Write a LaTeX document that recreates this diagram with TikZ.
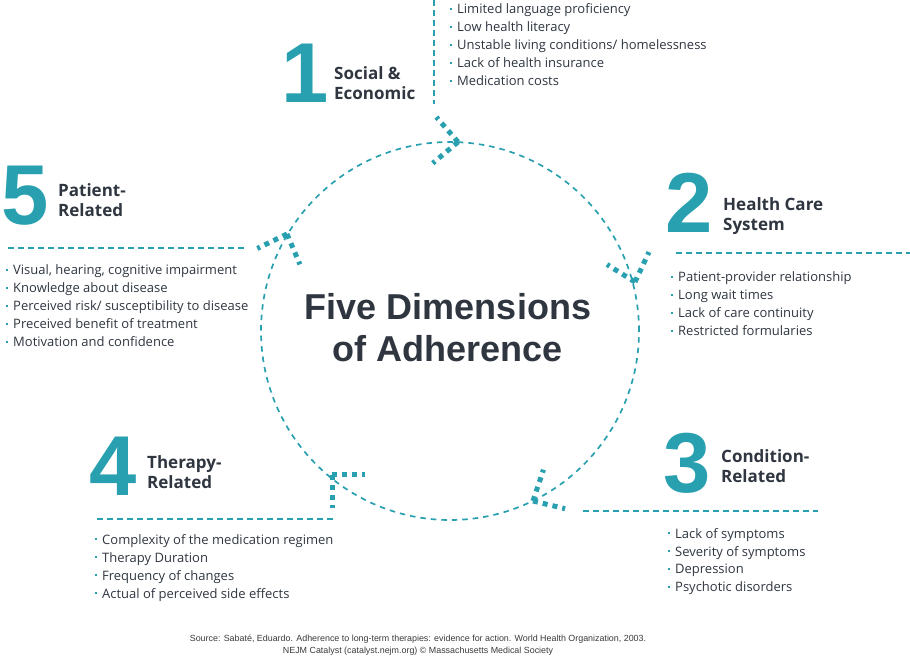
\documentclass[tikz,border=0pt]{standalone}
\usepackage{fontspec}
\setmainfont{Open Sans}
\newfontfamily\helvfont{Liberation Sans}
\definecolor{tealc}{HTML}{29A0B0}
\definecolor{inkc}{HTML}{2F3640}
\definecolor{notec}{HTML}{3A3A3A}
\newcommand\itm{\makebox[7pt][l]{\raisebox{3.8pt}{\textcolor{tealc}{\rule{1.9pt}{1.9pt}}}}}
\tikzset{
  num/.style={font=\helvfont\bfseries\fontsize{85}{85}\selectfont, text=tealc, inner sep=0, anchor=base west},
  head/.style={font=\bfseries\fontsize{17}{20}\selectfont, text=inkc, align=left, inner sep=0, anchor=base west},
  list/.style={font=\fontsize{13}{18}\selectfont, text=inkc, align=left, inner sep=0, anchor=base west},
  rule/.style={draw=tealc, line width=2pt, dash pattern=on 6pt off 4pt},
  ring/.style={draw=tealc, line width=1.7pt, dash pattern=on 5.5pt off 5pt},
  chev/.style={draw=tealc, line width=5pt, dash pattern=on 5pt off 5pt}
}
\begin{document}
\begin{tikzpicture}[x=1pt,y=1pt]
  \useasboundingbox (0,0) rectangle (910,656);

  % ring and title
  \coordinate (hub) at (450,325);
  \draw[ring] (hub) circle (189);
  \node[font=\helvfont\bfseries\fontsize{36}{42}\selectfont, text=inkc, align=center, inner sep=0, anchor=base] (title) at (448,294) {Five Dimensions\\of Adherence};

  % chevrons on the ring
  \coordinate (v1) at (458,514);
  \coordinate (v2) at (635,374);
  \coordinate (v3) at (533,155);
  \coordinate (v4) at (332,181);
  \coordinate (v5) at (287,422);
  \draw[chev] (v1) -- ++(131:33);
  \draw[chev] (v1) -- ++(220:33);
  \draw[chev] (v2) -- ++(148:33);
  \draw[chev] (v2) -- ++(65:33);
  \draw[chev] (v3) -- ++(71.5:33);
  \draw[chev] (v3) -- ++(-13.5:33);
  \draw[chev] (v4) -- ++(0:33);
  \draw[chev] (v4) -- ++(-90:33);
  \draw[chev] (v5) -- ++(-154:33);
  \draw[chev] (v5) -- ++(-67:33);

  % dashed rules
  \draw[rule] (434,656) -- (434,552);
  \draw[rule] (676,403) -- (910,403);
  \draw[rule] (583,145) -- (818,145);
  \draw[rule] (97,137) -- (333,137);
  \draw[rule] (8,408) -- (245,408);

  % 1 social and economic
  \node[num] (n1) at (281,553) {1};
  \node[head] (h1) at (334,556) {Social \&\\Economic};
  \node[list] (l1) at (450,570) {\itm Limited language proficiency\\\itm Low health literacy\\\itm Unstable living conditions/ homelessness\\\itm Lack of health insurance\\\itm Medication costs};

  % 2 health care system
  \node[num] (n2) at (665,423) {2};
  \node[head] (h2) at (723,425) {Health Care\\System};
  \node[list] (l2) at (671,320) {\itm Patient-provider relationship\\\itm Long wait times\\\itm Lack of care continuity\\\itm Restricted formularies};

  % 3 condition related
  \node[num] (n3) at (663,163) {3};
  \node[head] (h3) at (721,173) {Condition-\\Related};
  \node[list] (l3) at (668,64) {\itm Lack of symptoms\\\itm Severity of symptoms\\\itm Depression\\\itm Psychotic disorders};

  % 4 therapy related
  \node[num] (n4) at (89,160) {4};
  \node[head] (h4) at (147,167) {Therapy-\\Related};
  \node[list] (l4) at (95,58) {\itm Complexity of the medication regimen\\\itm Therapy Duration\\\itm Frequency of changes\\\itm Actual of perceived side effects};

  % 5 patient related
  \node[num] (n5) at (1,431) {5};
  \node[head] (h5) at (58,439) {Patient-\\Related};
  \node[list] (l5) at (6,309) {\itm Visual, hearing, cognitive impairment\\\itm Knowledge about disease\\\itm Perceived risk/ susceptibility to disease\\\itm Preceived benefit of treatment\\\itm Motivation and confidence};

  % source
  \node[font=\helvfont\fontsize{8.9}{12}\selectfont, text=notec, align=center, inner sep=0, anchor=base] (src) at (418,3) {Source: Sabaté, Eduardo. Adherence to long-term therapies: evidence for action. World Health Organization, 2003.\\NEJM Catalyst (catalyst.nejm.org) © Massachusetts Medical Society};
\end{tikzpicture}
\end{document}
